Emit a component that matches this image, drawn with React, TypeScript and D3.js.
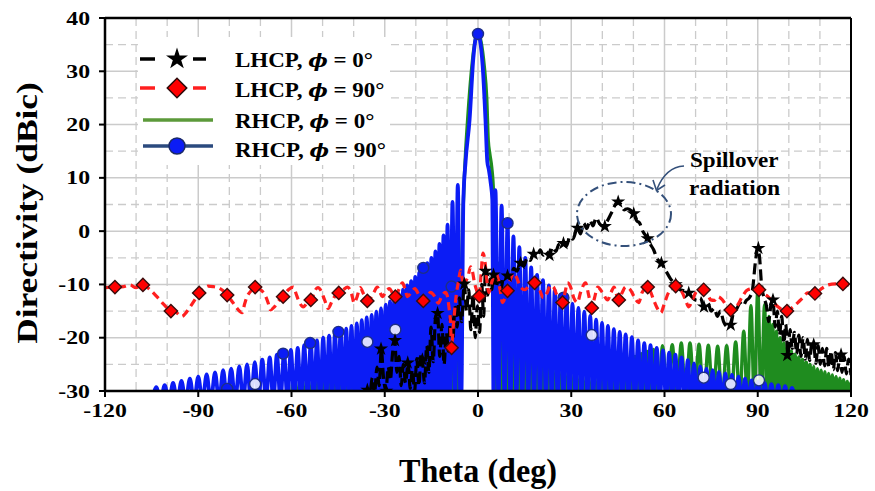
import React from 'react';
import * as d3 from 'd3';

type P = [number, number];

const xTicks = [-120, -90, -60, -30, 0, 30, 60, 90, 120];
const yTicks = [-30, -20, -10, 0, 10, 20, 30, 40];
const xMinorGrid = [-110, -100, -80, -70, -50, -40, -20, -10, 10, 20, 40, 50, 70, 80, 100, 110];
const yMinorGrid = [-25, -15, -5, 5, 15, 25, 35];

const FLOOR = -32;

// RHCP phi=90 (blue) side-lobe peaks
const blueLeftLobes: P[] = [
  [-103.5, -29.3], [-100.8, -28.9], [-98.1, -28.5], [-95.4, -28.1], [-92.7, -27.7], [-90.0, -27.3], [-87.3, -26.9],
  [-84.6, -26.5], [-82.0, -26.1], [-79.4, -25.8], [-76.8, -25.4], [-74.3, -25.0], [-71.8, -24.6], [-69.4, -24.1],
  [-67.0, -23.7], [-64.7, -23.2], [-62.4, -22.8], [-60.2, -22.3], [-58.0, -21.9], [-55.9, -21.4], [-53.8, -21.0],
  [-51.8, -20.5], [-49.8, -20.0], [-47.9, -19.6], [-46.0, -19.2], [-44.2, -18.8], [-42.4, -18.3], [-40.7, -17.8],
  [-39.0, -17.3], [-37.4, -16.7], [-35.8, -16.2], [-34.2, -15.7], [-32.7, -15.1], [-31.2, -14.5], [-29.7, -13.8],
  [-28.3, -13.2], [-26.9, -12.5], [-25.5, -11.8], [-24.1, -11.0], [-22.8, -10.2], [-21.5, -9.4], [-20.2, -8.6],
  [-18.9, -7.8], [-17.6, -6.9], [-16.3, -6.0], [-15.0, -5.0], [-13.7, -3.8], [-12.4, -2.4], [-11.1, -0.8],
  [-9.8, 1.2], [-8.2, 5.5], [-6.5, 8.7],
];
const blueMain: P[] = [
  [-5.4, FLOOR], [-4.7, 5.9], [-4.0, 13], [-2.7, 21], [-1.5, 32.5], [-0.6, 36.5], [0, 37], [0.6, 36], [1.5, 31],
  [2.4, 21], [3.0, 13], [3.5, 11.5], [4.1, 9], [4.6, 5.9], [5.0, FLOOR],
];
const blueRightLobes: P[] = [
  [5.6, 7.7], [7.6, 4.8], [9.5, 1.5], [11.4, -1.0], [13.3, -3.0], [15.2, -5.0], [17.1, -6.8], [19.0, -8.2],
  [20.9, -9.2], [22.8, -10.2], [24.7, -11.1], [26.6, -12.0], [28.5, -12.8], [30.4, -13.6], [32.3, -14.4],
  [34.2, -15.1], [36.1, -15.9], [38.0, -16.6], [39.9, -17.2], [41.8, -17.8], [43.7, -18.4], [45.6, -18.9],
  [47.5, -19.4], [49.5, -19.9], [51.5, -20.5], [53.5, -21.0], [55.5, -21.4], [57.5, -21.9], [59.5, -22.4],
  [61.5, -22.8], [63.5, -23.2], [65.5, -23.7], [67.5, -24.2], [69.5, -24.8], [71.5, -25.4], [73.5, -25.8],
  [75.5, -26.1], [77.5, -26.4], [79.6, -26.7], [81.7, -27.0], [83.8, -27.3], [85.9, -27.7], [88.0, -28.0],
  [90.1, -28.2], [92.2, -28.5], [94.4, -28.7], [96.6, -28.9], [98.8, -29.1], [101.0, -29.4],
];

// RHCP phi=0 (green)
const greenLeftLobes: P[] = [
  [-59.1, -27], [-57.0, -26.8], [-54.9, -26.5], [-52.8, -26.3], [-50.8, -26], [-48.9, -25.8], [-47.0, -25.5],
  [-45.1, -25.3], [-43.3, -25], [-41.6, -24.8], [-39.9, -24.5], [-38.2, -24.3], [-36.6, -24], [-35.0, -23.8],
  [-33.5, -23.5], [-32.0, -23.2], [-30.5, -23], [-29.0, -22.6], [-27.6, -22.2], [-26.2, -21.8], [-24.8, -21.5],
  [-23.45, -21.5], [-22.15, -20.5], [-20.85, -20], [-19.55, -19], [-18.25, -18.5], [-16.95, -18.5],
  [-15.65, -17.5], [-14.35, -17], [-13.05, -16], [-11.75, -15], [-10.45, -14], [-9.0, -12], [-7.35, -9],
];
const greenMain: P[] = [
  [-5.9, FLOOR], [-5.0, 0], [-4.4, 10], [-4.0, 14.7], [-3.2, 22], [-2.2, 29.5], [-1.0, 35.5], [0, 37],
  [1.0, 35.5], [2.0, 31], [2.8, 25], [3.3, 17], [3.8, 14.5], [4.4, 12], [5.0, 7], [5.6, FLOOR],
];
const greenRightLobes: P[] = [
  [6.6, -6], [8.55, -10], [10.45, -13], [12.35, -15], [14.25, -17], [16.15, -18.5], [18.05, -19.5],
  [19.95, -21], [21.85, -22], [23.75, -23], [25.65, -23.5], [27.55, -24], [29.45, -24.5], [31.35, -25],
  [33.25, -25.5], [35.15, -26], [37.05, -26], [38.95, -25.8], [40.85, -25.5], [42.75, -25.2], [44.65, -25],
  [46.55, -24.5], [48.5, -24], [50.5, -23.5], [52.5, -23], [54.5, -22.6], [56.5, -22.2],
  [59.4, -21.5], [62.5, -21.3], [65.4, -21], [68.2, -21], [71.1, -21.2], [74.1, -21.4], [77.1, -21.6],
  [80.0, -21.5], [82.9, -20.8], [85.5, -18.8], [87.8, -14], [90.0, -11.3], [92.2, -13.8],
  [93.6, -16], [94.8, -17.5], [96.0, -18.8], [97.2, -20], [98.4, -21], [99.6, -21.8], [100.8, -22.5],
  [102.0, -23.1], [103.2, -23.6], [104.4, -24.1], [105.6, -24.6], [106.8, -25], [108.0, -25.4],
  [109.2, -25.8], [110.4, -26.1], [111.6, -26.4], [112.8, -26.7], [114.0, -27], [115.2, -27.3],
  [116.4, -27.6], [117.6, -27.9], [118.8, -28.2], [120.0, -28.4],
];

// LHCP phi=0 (black dashed)
const lhcp0: P[] = [
  [-36.5, -30.5], [-35.6, -29.6], [-34.8, -30.5], [-34.0, -27.5], [-33.3, -30.5], [-32.5, -25.5], [-31.8, -29],
  [-31.1, -22.2], [-30.4, -27.5], [-29.6, -30], [-28.9, -25.5], [-28.2, -28], [-27.5, -23], [-26.8, -20.5],
  [-26.1, -26.5], [-25.4, -23.5], [-24.7, -29], [-24.0, -25], [-23.3, -28.5], [-22.5, -24.7], [-21.8, -29.5],
  [-21.1, -26], [-20.4, -30], [-19.7, -24], [-19.0, -29], [-18.3, -23], [-17.9, -24.1], [-17.2, -28.5],
  [-16.5, -21.5], [-15.8, -26.5], [-15.1, -18], [-14.4, -24.5], [-13.7, -16.5], [-13.0, -15.4], [-12.3, -23.5],
  [-11.6, -17.5], [-10.9, -25], [-10.2, -19], [-9.5, -22.5], [-8.8, -16], [-8.1, -20.5], [-7.4, -14],
  [-6.7, -18], [-6.0, -12.5], [-5.3, -17], [-4.4, -9.9], [-3.7, -15], [-3.0, -11], [-2.3, -18.5], [-1.6, -12],
  [-0.9, -20], [-0.2, -14], [0.5, -19], [1.2, -10], [1.8, -16], [2.4, -7.5], [3.1, -12], [3.8, -9], [4.4, -11],
  [5.0, -8.2], [5.8, -10.5], [6.6, -9], [7.4, -11], [8.2, -8.5], [9.5, -8.4], [10.5, -9], [11.5, -7],
  [12.5, -7.5], [13.7, -6], [14.8, -6.5], [15.8, -5], [16.8, -5.5], [17.9, -4.3], [19, -4.8], [20, -3.5],
  [21, -4.5], [22, -3.8], [23, -4.5], [24, -3], [25, -3.8], [26, -2.5], [27.5, -2.3], [28.5, -2.8], [29.5, -1],
  [30.5, -1.5], [32, 0.6], [33, -0.5], [34, 1.5], [35, 0.5], [36, 2], [37, 1], [38, 2.5], [39, 1.5], [40.4, 0.8],
  [41.5, 1.8], [43, 3.5], [44.9, 5.5], [46, 5], [47, 4], [48, 4.2], [50.1, 3.3], [51, 2], [52, 1.5], [53, 0],
  [54.6, -1.4], [55.5, -2.5], [56.5, -3.5], [57.5, -5], [59, -6], [60.5, -7.5], [62, -9], [63.6, -10],
  [65, -11], [66.5, -11.2], [67.8, -11.6], [69, -12.5], [70.5, -13], [71.5, -12.5], [72.7, -14.2], [74, -13.5],
  [75, -15], [76, -14.5], [77, -16], [78, -15], [79, -17], [80.4, -18], [81.3, -17.6], [82.3, -15], [83.3, -14.5],
  [84.3, -13.5], [85.3, -14], [86.3, -13], [87.3, -12.5], [88.3, -11], [89.2, -6], [90.0, -3.2], [90.6, -5],
  [91.2, -10], [92.0, -12.5], [92.8, -14], [93.5, -17], [94.2, -14], [94.9, -12.9], [95.6, -18], [96.3, -15],
  [97.0, -19.5], [97.7, -16], [98.4, -21], [99.0, -17.5], [99.7, -23.2], [100.4, -18.5], [101.1, -22],
  [101.8, -19], [102.5, -23], [103.2, -19.5], [103.9, -23.5], [104.6, -20], [105.3, -24], [106.0, -20.3],
  [106.7, -24.3], [107.4, -21], [108.0, -21.3], [108.7, -24.8], [109.4, -21.5], [110.1, -25], [110.8, -22],
  [111.5, -25.3], [112.2, -22], [112.9, -25.6], [113.6, -22.5], [114.3, -26], [115.0, -22.8], [115.7, -26.2],
  [116.4, -23.2], [117.1, -26.5], [117.8, -23.5], [118.5, -26.8], [119.2, -24], [120.0, -27],
];

// LHCP phi=90 (red dashed)
const lhcp90: P[] = [
  [-120, -10.6], [-116.8, -10.5], [-114, -10.4], [-112, -10.1], [-110, -10.6], [-107.8, -10.1], [-105.5, -11],
  [-103.3, -12.3], [-101, -13.8], [-98.8, -15], [-97, -15.3], [-95.3, -16], [-93.8, -15.2], [-92.6, -14.2],
  [-91, -12.8], [-89.7, -11.6], [-88.2, -10.8], [-86.8, -10.3], [-85.2, -10.4], [-83.6, -10.6], [-82, -11.2],
  [-80.7, -12], [-79, -13.3], [-77.5, -14.5], [-75.9, -15.3], [-75, -13.5], [-74.3, -12.3], [-73, -11.2],
  [-71.7, -10.5], [-70, -11], [-68.5, -12], [-67.5, -13.5], [-66.8, -14.8], [-65.5, -14.2], [-64, -13],
  [-62.7, -12.3], [-61, -11], [-59.4, -10.5], [-58.5, -11.8], [-57.8, -12.9], [-56.2, -14.2], [-55, -13.5],
  [-53.6, -12.9], [-52.5, -11.2], [-51.5, -10.6], [-50.5, -11.2], [-49.3, -13], [-48.2, -14.5], [-47, -13.2],
  [-45.8, -12], [-44.6, -11.6], [-43.3, -11], [-42, -10.5], [-40.8, -11.5], [-39.8, -13.5], [-39, -12.5],
  [-37.9, -10.6], [-36.8, -11.8], [-35.6, -13], [-34.5, -12.5], [-33.5, -11.5], [-32.4, -10.5], [-31.5, -11.5],
  [-30.8, -12.3], [-29.5, -11.2], [-28.5, -10.8], [-27.5, -11.6], [-26.6, -12.3], [-25.5, -11], [-24.3, -9.7],
  [-23.5, -10.8], [-22.7, -12.3], [-21.5, -11.5], [-20.3, -10.8], [-19, -12], [-17.6, -13], [-16.5, -12.5],
  [-15.3, -11.5], [-14, -12.2], [-12.8, -13.5], [-11.5, -12], [-10.5, -11.5], [-9.8, -12.3], [-9.3, -14.5],
  [-8.9, -16.5], [-8.5, -21.9], [-8.1, -19], [-7.6, -15.5], [-7, -12], [-6.3, -9.5], [-5.6, -7.3], [-5.1, -9],
  [-4.7, -10.5], [-4, -9.5], [-3.2, -8.5], [-2.4, -6.7], [-1.8, -7.5], [-1.2, -9.5], [-0.5, -11], [0.4, -12.2],
  [1, -8], [1.6, -4.1], [2.2, -5.5], [2.8, -9], [3.5, -11.5], [4.2, -10], [5, -8.5], [5.6, -7.9], [6.3, -8.5],
  [7.1, -11], [7.9, -13.4], [8.7, -12.5], [9.5, -11.2], [10.5, -9], [11.4, -7.9], [12.5, -8.8], [13.7, -10.5],
  [15, -11], [16.5, -10.2], [18.2, -9.7], [19.8, -11], [21, -12.5], [22.3, -11.5], [23.3, -10.2], [24.3, -10.5],
  [25.5, -12.2], [27.2, -13.4], [28, -11.5], [28.8, -9.7], [29.8, -10.5], [30.8, -12.5], [32, -13.4], [33, -11.5],
  [34.6, -9.7], [35.6, -12], [36.6, -14.4], [37.5, -12.5], [38.5, -10.5], [40, -11.5], [41.7, -12.9],
  [42.8, -11.5], [43.8, -10.5], [44.5, -11.8], [45.3, -12.9], [46.4, -11.5], [47.5, -10.5], [49, -11],
  [50.5, -12.6], [51.7, -13.4], [52.8, -11.5], [54.6, -10.5], [55.6, -11.5], [56.5, -12.9], [57.7, -14.5],
  [58.8, -15.3], [60, -13.5], [61.3, -11.5], [62.5, -10.5], [63.6, -10.3], [64.7, -10.8], [65.8, -11.6],
  [66.8, -13], [67.8, -14.2], [68.9, -13], [70, -11.6], [71.3, -11], [72.6, -11], [73.8, -11.8], [74.9, -12.9],
  [76, -13], [77.2, -12.3], [78.5, -12.8], [80, -14], [81.3, -14.8], [82.5, -14.5], [83.6, -13.8], [85, -12.3],
  [86.8, -11], [88.6, -10.8], [90.4, -11], [92, -11.8], [93.3, -12.3], [95, -13.3], [96.5, -14.2], [98, -14.8],
  [99.4, -15], [101, -14.4], [102.9, -13.4], [104.5, -12.5], [106.1, -11.6], [107.3, -11.6], [108.4, -11.7],
  [110.5, -10.8], [112.6, -10.1], [115, -9.9], [117.4, -9.9], [120, -10.4],
];

const blackStars: P[] = [
  [-35.6, -29.8], [-29.5, -30], [-31.2, -22.1], [-26.7, -20.5], [-22.6, -24.7], [-17.9, -24.1], [-13, -15.4],
  [-4.4, -9.9], [2.4, -7.5], [5, -8.2], [9.5, -8.4], [13.7, -6], [17.9, -4.3], [23, -4.5], [27.5, -2.3],
  [32, 0.6], [40.8, 0.9], [45.1, 5.5], [50.1, 3.3], [54.6, -1.4], [59, -6], [63.6, -10], [67.8, -11.6],
  [72.7, -14.2], [81.3, -17.6], [90.2, -3.2], [94.9, -12.9], [99.5, -23.3], [108, -21.3], [116.8, -23.2],
];
const redDiamonds: P[] = [
  [-116.8, -10.5], [-107.8, -10.1], [-98.8, -15], [-89.7, -11.6], [-80.7, -12], [-71.7, -10.5], [-62.7, -12.3],
  [-53.8, -12.9], [-44.8, -11.6], [-35.6, -13.1], [-26.6, -12.3], [-17.6, -13.1], [-8.5, -21.9], [0.4, -12.2],
  [9.5, -11.2], [18.2, -9.7], [27.2, -13.4], [36.6, -14.4], [45.3, -12.9], [54.6, -10.5], [63.6, -10.3],
  [72.6, -11], [81.3, -14.8], [90.4, -11], [99.4, -15], [108.4, -11.7], [117.4, -9.9],
];
const blueCircles: P[] = [
  [0, 37], [-80.7, -29.6], [-62.7, -23], [-54, -21], [-44.9, -18.9], [-17.6, -6.9], [-8.5, -10.4], [9.5, 1.5],
  [27.5, -12.5],
];
const blueCirclesHollow: P[] = [
  [-71.7, -28.7], [-35.6, -20.8], [-26.6, -18.5], [36.6, -19.5], [72.6, -27.5], [81.3, -28.7], [90.4, -28],
];

function lobesToPoints(lobes: P[], lead: boolean, trail: boolean): P[] {
  const out: P[] = [];
  lobes.forEach((p, i) => {
    if (i === 0 && lead && lobes.length > 1) out.push([p[0] - (lobes[1][0] - p[0]) / 2, FLOOR]);
    if (i > 0) out.push([(lobes[i - 1][0] + p[0]) / 2, FLOOR]);
    out.push(p);
    if (i === lobes.length - 1 && trail && i > 0) out.push([p[0] + (p[0] - lobes[i - 1][0]) / 2, FLOOR]);
  });
  return out;
}

const FONT = "'Liberation Serif', 'Times New Roman', 'DejaVu Serif', serif";

export default function App() {
  const x = d3.scaleLinear().domain([-120, 120]).range([105, 851]);
  const y = d3.scaleLinear().domain([-30, 40]).range([391, 18]);
  const line = d3.line<P>().x((d) => x(d[0])).y((d) => y(d[1])).curve(d3.curveMonotoneX);

  const bluePts = [...lobesToPoints(blueLeftLobes, true, true), ...blueMain, ...lobesToPoints(blueRightLobes, false, true)];
  const greenPts = [...lobesToPoints(greenLeftLobes, true, true), ...greenMain, ...lobesToPoints(greenRightLobes, false, true)];

  const star = d3.symbol().type(d3.symbolStar).size(62)() as string;
  const starBig = d3.symbol().type(d3.symbolStar).size(150)() as string;
  const diamond = d3.symbol().type(d3.symbolSquare).size(88)() as string;
  const diamondBig = d3.symbol().type(d3.symbolSquare).size(190)() as string;

  const BLUE = '#0b1cf5';
  const GREEN = '#1f8c1f';
  const RED = '#ff1f1f';
  const NAVY = '#1e2f86';
  const GRID = '#cbcbcb';

  const legendRows = [
    { label: 'LHCP', deg: '0°', ty: 67 },
    { label: 'LHCP', deg: '90°', ty: 97 },
    { label: 'RHCP', deg: '0°', ty: 128 },
    { label: 'RHCP', deg: '90°', ty: 157 },
  ];

  return (
    <svg width={875} height={491} style={{ position: 'absolute', left: 0, top: 0, background: '#fff' }} fontFamily={FONT}>
      <defs>
        <clipPath id="plotClip">
          <rect x={105} y={18} width={746} height={373} />
        </clipPath>
      </defs>
      <rect x={0} y={0} width={875} height={491} fill="#fff" />
      {/* grid */}
      {yMinorGrid.map((v) => (
        <line key={'ym' + v} x1={105} x2={851} y1={y(v)} y2={y(v)} stroke={GRID} strokeWidth={1.3} strokeDasharray="8,5" />
      ))}
      {xMinorGrid.map((t) => (
        <line key={'xm' + t} x1={x(t)} x2={x(t)} y1={18} y2={391} stroke={GRID} strokeWidth={1.3} strokeDasharray="8,5" />
      ))}
      {yTicks.map((v) => (
        <line key={'yg' + v} x1={105} x2={851} y1={y(v)} y2={y(v)} stroke={GRID} strokeWidth={1.5} />
      ))}
      {xTicks.map((t) => (
        <line key={'xg' + t} x1={x(t)} x2={x(t)} y1={18} y2={391} stroke={GRID} strokeWidth={1.5} />
      ))}

      {/* legend background */}
      <rect x={138} y={37} width={252} height={128} fill="#fff" />

      <g clipPath="url(#plotClip)">
        <path d={line(greenPts) as string} fill="none" stroke={GREEN} strokeWidth={3.4} strokeLinejoin="round" />
        <path d={line(bluePts) as string} fill="none" stroke={BLUE} strokeWidth={3.8} strokeLinejoin="round" />
        {blueCircles.map((p, i) => (
          <circle key={'bc' + i} cx={x(p[0])} cy={y(p[1])} r={5.5} fill={BLUE} stroke={NAVY} strokeWidth={1.4} />
        ))}
        {blueCirclesHollow.map((p, i) => (
          <circle key={'bh' + i} cx={x(p[0])} cy={y(p[1])} r={5.5} fill="#fff" fillOpacity={0.85} stroke={NAVY} strokeWidth={1.4} />
        ))}
        <path d={line(lhcp0) as string} fill="none" stroke="#000" strokeWidth={3.2} strokeDasharray="11,5" strokeLinejoin="round" />
        <path d={line(lhcp90) as string} fill="none" stroke={RED} strokeWidth={3.2} strokeDasharray="8,5" strokeLinejoin="round" />
        {blackStars.map((p, i) => (
          <path key={'bs' + i} d={star} transform={`translate(${x(p[0])},${y(p[1])})`} fill="#000" />
        ))}
        {redDiamonds.map((p, i) => (
          <path key={'rd' + i} d={diamond} transform={`translate(${x(p[0])},${y(p[1])}) rotate(45)`} fill="#ff0000" stroke="#3a0d0d" strokeWidth={1.4} />
        ))}
      </g>

      {/* axes & frame */}
      <line x1={105} x2={851} y1={18} y2={18} stroke="#000" strokeWidth={2.5} />
      <line x1={851} x2={851} y1={18} y2={391} stroke="#000" strokeWidth={2} />
      <line x1={105} x2={105} y1={17} y2={392} stroke="#000" strokeWidth={2.5} />
      <line x1={104} x2={852} y1={391} y2={391} stroke="#000" strokeWidth={2.5} />
      {yTicks.map((v) => (
        <line key={'yt' + v} x1={99} x2={105} y1={y(v)} y2={y(v)} stroke="#000" strokeWidth={2} />
      ))}
      {xTicks.map((t) => (
        <line key={'xt' + t} x1={x(t)} x2={x(t)} y1={391} y2={397} stroke="#000" strokeWidth={2} />
      ))}
      {yTicks.map((v) => (
        <g key={'yl' + v} transform={`translate(90,${y(v) + 6.5}) scale(1.25,1)`}>
          <text textAnchor="end" fontSize={19} fontWeight="bold" fill="#000">{v}</text>
        </g>
      ))}
      {xTicks.map((t) => (
        <g key={'xl' + t} transform={`translate(${x(t)},417) scale(1.25,1)`}>
          <text textAnchor="middle" fontSize={19} fontWeight="bold" fill="#000">{t}</text>
        </g>
      ))}

      {/* axis titles */}
      <text x={478} y={482} textAnchor="middle" fontSize={34} fontWeight="bold" textLength={158} lengthAdjust="spacingAndGlyphs">Theta (deg)</text>
      <g transform="translate(37,213) rotate(-90) scale(1.18,1)">
        <text textAnchor="middle" fontSize={30} fontWeight="bold">Directivity (dBic)</text>
      </g>

      {/* legend */}
      <g>
        <line x1={140} x2={155} y1={59} y2={59} stroke="#000" strokeWidth={3.5} />
        <line x1={193} x2={206} y1={59} y2={59} stroke="#000" strokeWidth={3.5} />
        <path d={starBig} transform="translate(177,59)" fill="#000" />
        <line x1={140} x2={155} y1={88} y2={88} stroke={RED} strokeWidth={3.5} />
        <line x1={193} x2={206} y1={88} y2={88} stroke={RED} strokeWidth={3.5} />
        <path d={diamondBig} transform="translate(177,88) rotate(45)" fill="#ff0000" stroke="#2a0a0a" strokeWidth={1.5} />
        <line x1={143} x2={213} y1={120} y2={120} stroke="#5c9a3a" strokeWidth={3.5} />
        <line x1={143} x2={213} y1={146} y2={146} stroke="#2b4a7e" strokeWidth={3.5} />
        <circle cx={177} cy={146} r={8} fill={BLUE} stroke="#1b2a66" strokeWidth={1.5} />
        {legendRows.map((r, i) => (
          <g key={'lg' + i} transform={`translate(235,${r.ty}) scale(1.15,1)`}>
            <text fontSize={20} fontWeight="bold" fill="#000">
              {r.label}, <tspan fontStyle="italic" fontFamily="'DejaVu Serif', serif" fontSize={18}>ϕ</tspan> = {r.deg}
            </text>
          </g>
        ))}
      </g>

      {/* annotation */}
      <ellipse cx={624} cy={214} rx={47} ry={32} fill="none" stroke="#34507a" strokeWidth={2} strokeDasharray="9,4,2,4" />
      <path d="M684,166 Q666,167 657,189" fill="none" stroke="#34507a" strokeWidth={1.6} />
      <path d="M653,180 L656.5,190.5 L665,185" fill="none" stroke="#34507a" strokeWidth={1.6} />
      <g transform="translate(690,167) scale(1.1,1)">
        <text fontSize={21} fontWeight="bold">Spillover</text>
      </g>
      <g transform="translate(689,195) scale(1.1,1)">
        <text fontSize={21} fontWeight="bold">radiation</text>
      </g>
    </svg>
  );
}
